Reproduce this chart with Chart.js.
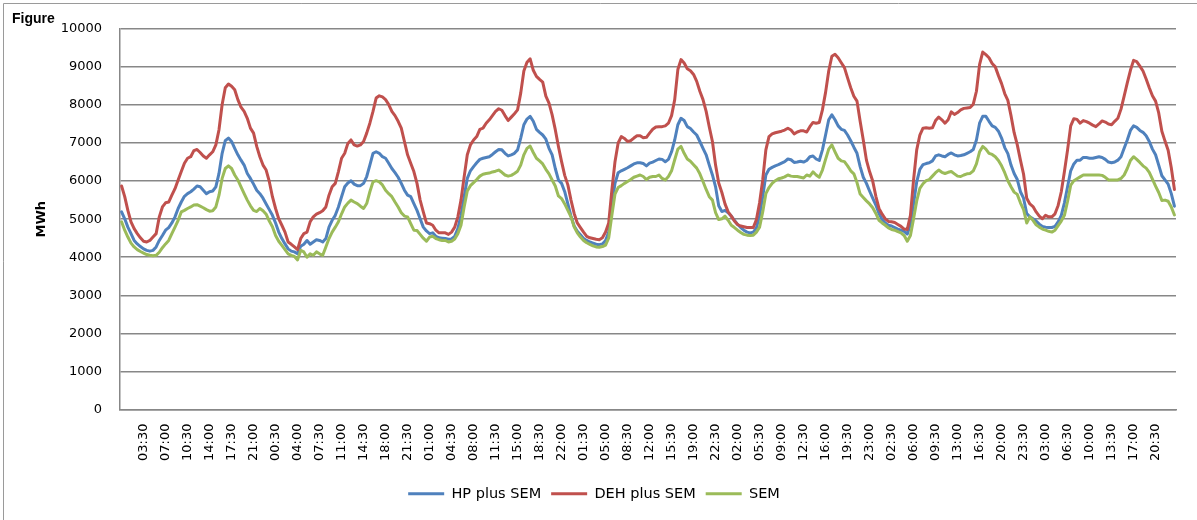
<!DOCTYPE html>
<html>
<head>
<meta charset="utf-8">
<script src="https://cdn.jsdelivr.net/npm/chart.js@4.4.1/dist/chart.umd.min.js"></script>
<style>
  html, body { margin: 0; padding: 0; background: #fff; }
  #wrap { width: 1197px; height: 520px; position: relative; }
</style>
</head>
<body>
<div id="wrap"><canvas id="myChart"></canvas></div>
<script>
// half-hour slots of one day, the week repeats them 7 times
const slots = [
  '00:00','00:30','01:00','01:30','02:00','02:30','03:00','03:30','04:00','04:30','05:00','05:30',
  '06:00','06:30','07:00','07:30','08:00','08:30','09:00','09:30','10:00','10:30','11:00','11:30',
  '12:00','12:30','13:00','13:30','14:00','14:30','15:00','15:30','16:00','16:30','17:00','17:30',
  '18:00','18:30','19:00','19:30','20:00','20:30','21:00','21:30','22:00','22:30','23:00','23:30'
];
const days = 7;
const labelEvery = 7;

// HP plus SEM (MWh), one row per day
const hpSem = [
  5190,5010,4790,4620,4440,4350,4280,4220,4180,4160,4180,4270,4440,4570,4710,4780,4900,5060,5280,5450,5600,5670,5720,5790,5870,5850,5760,5670,5720,5740,5850,6200,6730,7060,7130,7040,6860,6690,6550,6420,6200,6070,5920,5760,5670,5550,5400,5250,
  5100,4900,4660,4490,4350,4220,4160,4140,4090,4290,4340,4440,4340,4400,4460,4440,4400,4490,4790,4970,5100,5320,5590,5850,5950,6010,5920,5880,5880,5940,6120,6420,6730,6770,6730,6640,6600,6470,6330,6220,6100,5940,5760,5630,5590,5410,5230,5010,
  4790,4690,4620,4640,4550,4510,4500,4490,4470,4480,4550,4750,5100,5590,6070,6270,6380,6480,6570,6600,6620,6640,6700,6770,6830,6820,6730,6660,6690,6730,6820,7130,7480,7630,7700,7570,7360,7280,7210,7100,6860,6690,6330,6030,5940,5720,5400,5080,
  4820,4680,4590,4490,4440,4400,4370,4340,4330,4350,4440,4660,5370,5940,6220,6270,6310,6350,6400,6450,6480,6480,6460,6400,6470,6500,6540,6580,6570,6510,6570,6770,7080,7480,7650,7590,7430,7380,7290,7210,7040,6860,6690,6420,6160,5850,5350,5200,
  5230,5170,5080,4970,4860,4780,4710,4660,4640,4660,4770,5100,5590,6160,6310,6360,6400,6430,6470,6510,6580,6560,6490,6500,6520,6500,6540,6640,6660,6580,6540,6820,7210,7610,7740,7610,7450,7360,7330,7210,7060,6890,6730,6380,6100,5940,5740,5550,
  5370,5150,4990,4900,4840,4820,4780,4740,4710,4680,4610,4870,5410,5980,6310,6430,6460,6480,6530,6660,6690,6660,6640,6700,6740,6690,6660,6670,6690,6730,6770,6830,7080,7520,7700,7700,7570,7450,7410,7310,7130,6880,6720,6420,6200,6040,5720,5550,
  5150,5060,5010,4950,4870,4810,4790,4780,4780,4810,4930,5100,5430,5850,6270,6450,6550,6550,6620,6620,6600,6600,6620,6640,6620,6570,6500,6480,6500,6550,6640,6860,7080,7330,7450,7410,7330,7280,7190,7040,6840,6690,6420,6140,6030,5920,5670,5340
];

// DEH plus SEM (MWh)
const dehSem = [
  5870,5590,5230,4930,4750,4620,4510,4420,4400,4440,4530,4620,5060,5320,5430,5450,5630,5800,6030,6250,6470,6600,6640,6800,6830,6750,6660,6600,6690,6770,6950,7350,8010,8450,8550,8490,8400,8140,7940,7830,7650,7390,7260,6910,6640,6420,6290,5990,
  5590,5280,5010,4840,4660,4400,4340,4270,4200,4490,4620,4660,4930,5060,5130,5170,5220,5320,5630,5850,5940,6250,6600,6730,6990,7080,6950,6920,6950,7040,7260,7520,7830,8180,8240,8210,8140,8010,7830,7720,7570,7390,7040,6690,6470,6250,5940,5500,
  5190,4900,4880,4840,4710,4640,4640,4640,4600,4660,4790,5060,5500,6110,6690,6950,7080,7170,7360,7390,7520,7610,7720,7830,7900,7860,7720,7590,7680,7770,7870,8310,8890,9120,9210,8910,8750,8670,8600,8230,8050,7740,7350,6910,6510,6150,5900,5500,
  5150,4900,4780,4660,4550,4510,4490,4470,4460,4510,4660,4900,5760,6510,7000,7170,7120,7040,7060,7130,7190,7190,7140,7150,7260,7360,7420,7430,7430,7450,7520,7720,8140,8930,9190,9100,8950,8900,8800,8620,8360,8140,7830,7420,7040,6420,5950,5700,
  5400,5190,5080,4950,4860,4820,4800,4780,4780,4780,4990,5430,6030,6820,7170,7240,7270,7290,7310,7340,7390,7340,7240,7290,7320,7320,7290,7430,7540,7520,7540,7870,8330,8890,9280,9330,9240,9110,8980,8710,8450,8230,8100,7570,7080,6550,6250,6000,
  5600,5280,5130,5010,4940,4930,4910,4860,4810,4740,4730,5100,6030,6820,7210,7390,7400,7390,7400,7590,7680,7610,7520,7610,7820,7750,7800,7870,7910,7920,7930,8020,8360,9060,9390,9320,9240,9090,9000,8770,8560,8300,8120,7720,7270,6950,6550,6180,
  5550,5400,5330,5190,5080,5010,5100,5060,5060,5140,5360,5720,6250,6820,7450,7640,7620,7520,7590,7560,7520,7470,7430,7500,7580,7550,7500,7480,7570,7650,7890,8230,8580,8910,9170,9140,9020,8890,8680,8450,8240,8100,7790,7310,7050,6810,6350,5780
];

// SEM (MWh)
const sem = [
  4930,4710,4530,4370,4270,4200,4150,4110,4070,4050,4040,4050,4130,4250,4350,4440,4620,4790,4970,5190,5230,5280,5320,5370,5380,5340,5300,5250,5210,5220,5320,5630,6070,6330,6400,6330,6160,6030,5850,5670,5500,5350,5230,5200,5280,5220,5130,4950,
  4800,4570,4420,4310,4200,4090,4050,4020,3930,4180,4140,4000,4090,4050,4140,4090,4050,4270,4490,4660,4790,4930,5140,5320,5420,5500,5450,5410,5340,5280,5410,5720,5980,6010,5980,5900,5760,5670,5590,5450,5320,5170,5080,5060,4880,4710,4700,4600,
  4500,4420,4530,4550,4490,4460,4440,4440,4400,4420,4480,4620,4840,5320,5740,5880,5960,6040,6130,6180,6200,6210,6240,6260,6290,6230,6160,6130,6150,6200,6260,6420,6690,6860,6920,6750,6600,6530,6450,6310,6190,6030,5870,5610,5540,5400,5230,5060,
  4800,4640,4530,4440,4380,4340,4300,4270,4260,4280,4320,4510,5100,5660,5830,5880,5940,5990,6040,6100,6130,6160,6120,6040,6100,6120,6120,6160,6070,6030,6120,6270,6560,6840,6910,6730,6580,6520,6430,6340,6190,5990,5780,5590,5500,5170,4990,5010,
  5080,4970,4840,4780,4710,4650,4600,4580,4570,4580,4660,4790,5190,5670,5830,5940,6010,6060,6080,6110,6160,6130,6120,6120,6100,6080,6160,6130,6240,6160,6100,6290,6570,6840,6950,6770,6600,6530,6510,6400,6270,6190,5960,5660,5570,5480,5400,5300,
  5150,4970,4900,4840,4770,4730,4710,4670,4640,4570,4420,4570,5010,5480,5810,5930,6010,6040,6130,6220,6290,6230,6200,6230,6250,6190,6130,6120,6160,6190,6200,6270,6450,6770,6910,6840,6730,6700,6640,6540,6400,6220,6010,5850,5710,5650,5430,5250,
  4900,5060,4970,4850,4790,4740,4710,4680,4660,4710,4830,4950,5100,5470,5890,6010,6060,6110,6160,6160,6160,6160,6160,6160,6150,6100,6030,6030,6030,6030,6070,6160,6330,6540,6640,6570,6490,6400,6340,6230,6050,5870,5700,5490,5500,5470,5320,5110
];

// category labels for the whole week
var categories = [];
for (var d = 0; d < days; d++) categories = categories.concat(slots);

Chart.defaults.font.family = "'DejaVu Sans', sans-serif";
Chart.defaults.color = '#000';

// gray frame line along the top and left edge
const frame = {
  id: 'frame',
  beforeDraw(chart) {
    const ctx = chart.ctx;
    ctx.save();
    ctx.fillStyle = '#fff';
    ctx.fillRect(0, 0, chart.width, chart.height);
    ctx.strokeStyle = '#9a9a9a';
    ctx.lineWidth = 1;
    ctx.beginPath();
    ctx.moveTo(3.5, chart.height);
    ctx.lineTo(3.5, 3.5);
    ctx.lineTo(chart.width, 3.5);
    ctx.stroke();
    ctx.restore();
  }
};

var data = {
  labels: categories,
  datasets: [{
    label: 'HP plus SEM',
    data: hpSem,
    borderColor: '#4F81BD',
    backgroundColor: '#4F81BD',
    borderWidth: 3,
    order: 2
  }, {
    label: 'DEH plus SEM',
    data: dehSem,
    borderColor: '#C0504D',
    backgroundColor: '#C0504D',
    borderWidth: 3,
    order: 1
  }, {
    label: 'SEM',
    data: sem,
    borderColor: '#9BBB59',
    backgroundColor: '#9BBB59',
    borderWidth: 3,
    order: 0
  }]
};

var config = {
  type: 'line',
  data: data,
  plugins: [frame],
  options: {
    responsive: true,
    maintainAspectRatio: false,
    animation: false,
    elements: {
      point: { radius: 0, hoverRadius: 0 },
      line: { tension: 0, borderCapStyle: 'round', borderJoinStyle: 'round' }
    },
    layout: { padding: { left: 12, right: 21, top: 1, bottom: 9 } },
    plugins: {
      title: {
        display: true,
        text: 'Figure',
        align: 'start',
        color: '#000',
        font: { family: "'Liberation Sans', Arial, sans-serif", size: 14, weight: 'bold' },
        padding: { top: 10, bottom: 1 }
      },
      legend: {
        position: 'bottom',
        labels: {
          usePointStyle: true,
          pointStyle: 'line',
          pointStyleWidth: 36,
          padding: 10,
          color: '#000',
          font: { size: 14.5 },
          sort: (a, b) => a.datasetIndex - b.datasetIndex
        }
      },
      tooltip: { enabled: false }
    },
    scales: {
      x: {
        offset: true,
        grid: { display: false },
        border: { display: true, color: '#878787', width: 1.5 },
        ticks: {
          autoSkip: false,
          minRotation: 90,
          maxRotation: 90,
          padding: 6,
          font: { size: 13 },
          callback: function (v, i) {
            return (i > 0 && i % labelEvery === 0) ? categories[i] : null;
          }
        },
        afterFit: function (s) { s.height = 67; }
      },
      y: {
        min: 0,
        max: 10000,
        grid: { color: '#878787', lineWidth: 1.5, drawTicks: false },
        border: { color: '#878787', width: 1.5 },
        ticks: {
          stepSize: 1000,
          padding: 18,
          font: { size: 13 },
          callback: function (v) { return String(v); }
        },
        title: {
          display: true,
          text: 'MWh',
          color: '#000',
          font: { size: 13, weight: 'bold' },
          padding: { top: 22, bottom: 0 }
        },
        afterFit: function (s) { s.width = 108; }
      }
    }
  }
};

var myChart = new Chart(document.getElementById('myChart'), config);
</script>
</body>
</html>
